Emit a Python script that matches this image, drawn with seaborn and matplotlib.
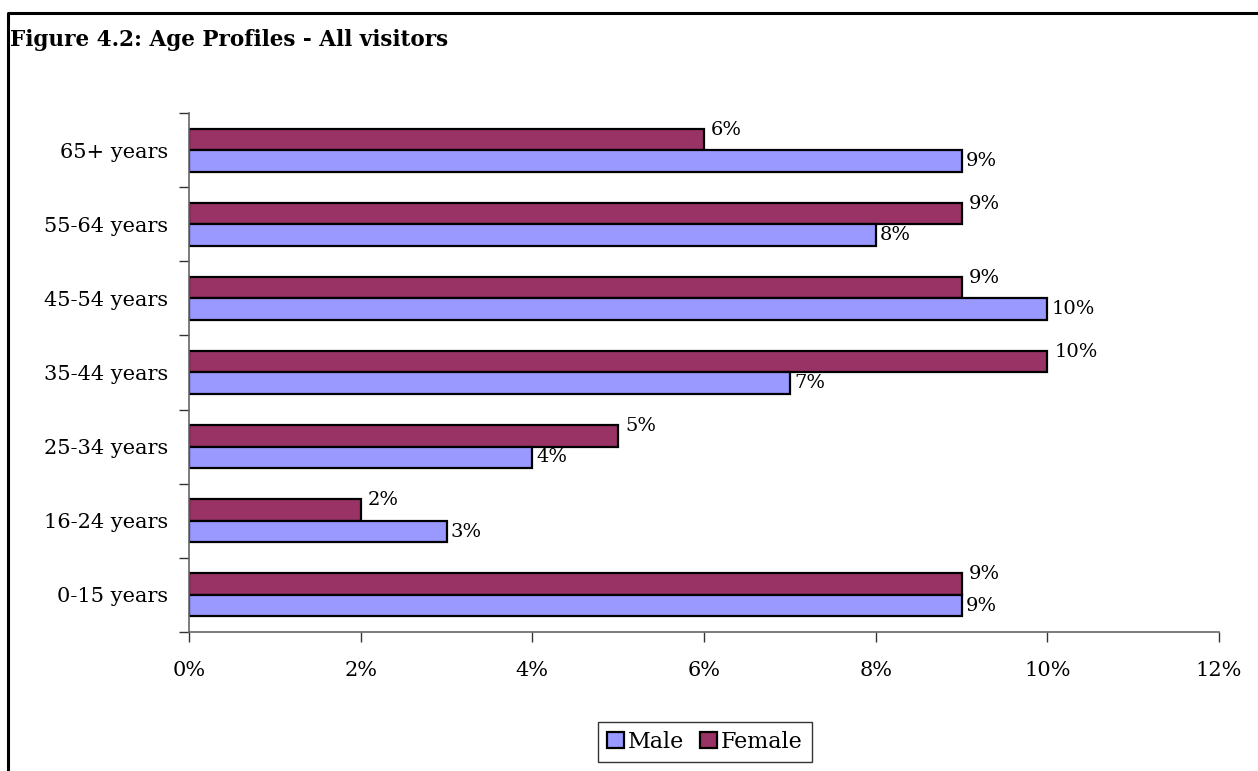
import numpy as np
import pandas as pd
import matplotlib
matplotlib.use("Agg")
import matplotlib.pyplot as plt
from matplotlib.lines import Line2D
from matplotlib.patches import Patch
import seaborn as sns

# Age bands listed top to bottom
age_bands = ["65+ years", "55-64 years", "45-54 years", "35-44 years",
             "25-34 years", "16-24 years", "0-15 years"]
male = [9, 8, 10, 7, 4, 3, 9]
female = [6, 9, 9, 10, 5, 2, 9]
x_ticks = [0, 2, 4, 6, 8, 10, 12]

male_color = "#9999FF"
female_color = "#993366"

df = pd.DataFrame({
    "age": age_bands * 2,
    "sex": ["Female"] * len(age_bands) + ["Male"] * len(age_bands),
    "pct": female + male,
})

sns.set_style("white")
plt.rcParams["font.family"] = ["DejaVu Serif"]
plt.rcParams["text.color"] = "black"
plt.rcParams["xtick.color"] = "black"
plt.rcParams["ytick.color"] = "black"

fig = plt.figure(figsize=(12.58, 7.71), dpi=100)
ax = fig.add_axes([189 / 1258, 1 - 632 / 771, (1219 - 189) / 1258, (632 - 113) / 771])

sns.barplot(data=df, y="age", x="pct", hue="sex", order=age_bands,
            hue_order=["Female", "Male"],
            palette={"Female": female_color, "Male": male_color},
            orient="h", width=0.58, edgecolor="black", linewidth=1.6,
            saturation=1, legend=False, ax=ax)

ax.set_xlim(0, 12)
ax.set_ylim(len(age_bands) - 0.5, -0.5)
ax.set_xticks(x_ticks)
ax.set_xticklabels([f"{t}%" for t in x_ticks], fontsize=15)
ax.set_yticks(range(len(age_bands)))
ax.set_yticklabels(age_bands, fontsize=15)
ax.set_yticks(np.arange(-0.5, len(age_bands)), minor=True)
ax.tick_params(axis="y", which="major", left=True, length=0, pad=15)
ax.tick_params(axis="y", which="minor", left=True, length=7, width=1,
               color="#333333", direction="out")
ax.tick_params(axis="x", which="major", bottom=True, length=7, width=1,
               color="#333333", direction="out", pad=14)
ax.set_xlabel("")
ax.set_ylabel("")
for side in ["top", "right"]:
    ax.spines[side].set_visible(False)
for side in ["left", "bottom"]:
    ax.spines[side].set_color("#666666")
    ax.spines[side].set_linewidth(1.2)

# value labels: female just above its bar end, male centred on its bar end
for i, (m, f) in enumerate(zip(male, female)):
    ax.annotate(f"{f}%", xy=(f, i - 0.145), xytext=(5, 7), textcoords="offset points",
                ha="left", va="center", fontsize=14)
    ax.annotate(f"{m}%", xy=(m, i + 0.145), xytext=(3, 0), textcoords="offset points",
                ha="left", va="center", fontsize=14)

handles = [Patch(facecolor=male_color, edgecolor="black", linewidth=1.6, label="Male"),
           Patch(facecolor=female_color, edgecolor="black", linewidth=1.6, label="Female")]
leg = fig.legend(handles=handles, loc="center", bbox_to_anchor=(705 / 1258, 1 - 742 / 771),
                 ncol=2, fontsize=16, frameon=True, fancybox=False, handlelength=0.75,
                 handleheight=0.75, handletextpad=0.2, columnspacing=0.7,
                 borderpad=0.4, borderaxespad=0)
leg.get_frame().set_edgecolor("black")
leg.get_frame().set_linewidth(1.0)

fig.text(10 / 1258, 1 - 40 / 771, "Figure 4.2: Age Profiles - All visitors",
         fontsize=15.5, fontweight="bold", ha="left", va="center")

# page frame along the left and top edges
fig.add_artist(Line2D([8 / 1258, 8 / 1258, 1.0], [0.0, 1 - 13 / 771, 1 - 13 / 771],
                      transform=fig.transFigure, color="black", linewidth=2.2))

fig.savefig("out.png", dpi=100)
